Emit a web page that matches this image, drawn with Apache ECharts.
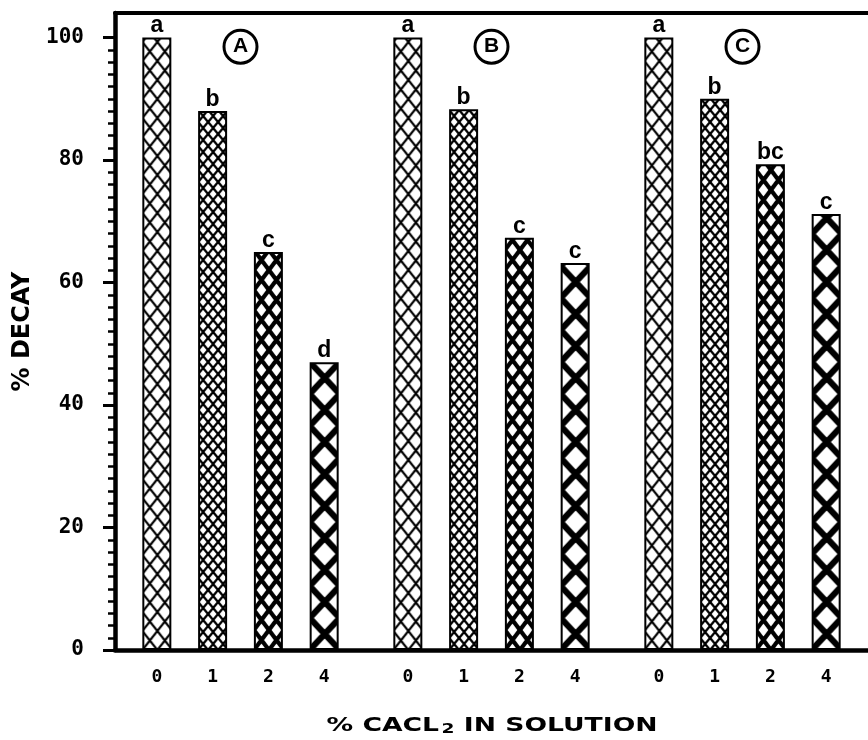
<!DOCTYPE html>
<html><head><meta charset="utf-8">
<script src="https://cdn.jsdelivr.net/npm/echarts@6/dist/echarts.min.js"></script>
<style>html,body{margin:0;padding:0;background:#fff}#c{width:868px;height:740px}</style>
</head><body><div id="c"></div>
<script>
// ---- data ----
const groups = ['A', 'B', 'C'];
const concentrations = ['0', '1', '2', '4'];
const decayA = [100, 88, 65, 47];
const decayB = [100, 88.3, 67.3, 63.2];
const decayC = [100, 90, 79.3, 71.2];
const lettersA = ['a', 'b', 'c', 'd'];
const lettersB = ['a', 'b', 'c', 'c'];
const lettersC = ['a', 'b', 'bc', 'c'];
const yTicks = [0, 20, 40, 60, 80, 100];

// ---- derived ----
const decay = [decayA, decayB, decayC];
const letters = [lettersA, lettersB, lettersC];
const yMinorTicks = [];
for (let v = 2; v < 100; v += 2) if (v % 20) yMinorTicks.push(v);
const SLOTS = 27;
function barSlot(g, i) { return 1 + g * 9 + i * 2; }
const categories = new Array(SLOTS).fill('');
const letterBySlot = new Array(SLOTS).fill('');
groups.forEach((g, gi) => concentrations.forEach((c, ci) => {
  categories[barSlot(gi, ci)] = c;
  letterBySlot[barSlot(gi, ci)] = letters[gi][ci];
}));

// ---- hatch patterns (style) ----
const tileSpec = [
  { w: 15, h: 19, lw: 2.2 },
  { w: 10, h: 12, lw: 2.4 },
  { w: 15, h: 20, lw: 4.2 },
  { w: 30, h: 32, lw: 6.2 }
];
function makeTile(s) {
  const c = document.createElement('canvas');
  c.width = s.w; c.height = s.h;
  const g = c.getContext('2d');
  g.fillStyle = '#fff'; g.fillRect(0, 0, s.w, s.h);
  g.strokeStyle = '#000'; g.lineWidth = s.lw;
  for (const dx of [-s.w, 0, s.w]) for (const dy of [-s.h, 0, s.h]) {
    g.beginPath();
    g.moveTo(dx, dy); g.lineTo(dx + s.w, dy + s.h);
    g.moveTo(dx + s.w, dy); g.lineTo(dx, dy + s.h);
    g.stroke();
  }
  return c;
}
const tiles = tileSpec.map(makeTile);
const BAR_W = 29;

function barData(offsetFn) {
  const d = new Array(SLOTS).fill('-');
  groups.forEach((g, gi) => concentrations.forEach((c, ci) => {
    const slot = barSlot(gi, ci);
    const off = offsetFn ? offsetFn(slot) : { x: 0, y: 0 };
    d[slot] = {
      value: decay[gi][ci],
      itemStyle: { color: { image: tiles[ci], repeat: 'repeat', x: off.x, y: off.y } }
    };
  }));
  return d;
}

const chart = echarts.init(document.getElementById('c'), null, { renderer: 'canvas' });
const option = {
  animation: false,
  backgroundColor: '#fff',
  grid: { left: 115, right: 0, top: 13, bottom: 90, containLabel: false },
  xAxis: [{
    type: 'category', data: categories, position: 'bottom',
    axisLine: { lineStyle: { color: '#000', width: 4.5 } },
    axisTick: { show: false },
    axisLabel: { interval: 0, color: '#000', fontFamily: 'DejaVu Sans Mono', fontWeight: 'bold', fontSize: 18, margin: 18 },
    splitLine: { show: false }
  }, {
    type: 'value', position: 'top', min: 0, max: 1,
    axisLine: { show: true, onZero: false, lineStyle: { color: '#000', width: 4 } },
    axisTick: { show: false }, axisLabel: { show: false }, splitLine: { show: false }
  }],
  yAxis: [{
    type: 'value', min: 0, max: 104, position: 'left',
    name: '% DECAY', nameLocation: 'middle', nameGap: 80, nameRotate: 90,
    nameTextStyle: { fontFamily: 'DejaVu Sans', fontWeight: 'bold', fontSize: 24, color: '#000' },
    axisLine: { show: true, onZero: false, lineStyle: { color: '#000', width: 4.5 } },
    axisTick: { show: true, customValues: yTicks, length: 12, lineStyle: { color: '#000', width: 3 } },
    axisLabel: { customValues: yTicks, color: '#000', fontFamily: 'DejaVu Sans Mono', fontWeight: 'bold', fontSize: 21, margin: 31 },
    splitLine: { show: false }
  }, {
    type: 'value', min: 0, max: 104, position: 'left',
    axisLine: { show: false },
    axisTick: { show: true, customValues: yMinorTicks, length: 7, lineStyle: { color: '#000', width: 2.5 } },
    axisLabel: { show: false }, splitLine: { show: false }
  }],
  series: [{
    type: 'bar', xAxisIndex: 0, yAxisIndex: 0, barWidth: BAR_W,
    data: barData(null),
    itemStyle: { borderColor: '#000', borderWidth: 2 },
    label: {
      show: true, position: 'top', distance: 0,
      formatter: p => letterBySlot[p.dataIndex],
      fontFamily: 'Liberation Sans', fontWeight: 'bold', fontSize: 23, color: '#000'
    }
  }, {
    type: 'scatter', xAxisIndex: 0, yAxisIndex: 0, z: 5,
    data: groups.map((g, gi) => [barSlot(gi, 1) + 1, 98.5]),
    symbol: 'circle', symbolSize: 33,
    itemStyle: { color: '#fff', borderColor: '#000', borderWidth: 3, opacity: 1 },
    label: {
      show: true, position: 'inside', formatter: p => groups[p.dataIndex],
      fontFamily: 'Liberation Sans', fontWeight: 'bold', fontSize: 21, color: '#000'
    },
    emphasis: { disabled: true }
  }],
  graphic: [{
    type: 'text', x: 492, y: 726, scaleX: 1.33,
    style: {
      text: '{t|% CACL}{s|2}{t| IN SOLUTION}',
      align: 'center', verticalAlign: 'middle',
      rich: {
        t: { fontFamily: 'DejaVu Sans', fontWeight: 'bold', fontSize: 20, lineHeight: 20, verticalAlign: 'top', fill: '#000', color: '#000' },
        s: { fontFamily: 'DejaVu Sans', fontWeight: 'bold', fontSize: 14, lineHeight: 14, verticalAlign: 'bottom', padding: [10, 0, 0, 2], fill: '#000', color: '#000' }
      }
    }
  }]
};
chart.setOption(option);
const zeroY = chart.convertToPixel({ yAxisIndex: 0 }, 0);
chart.setOption({
  series: [{
    data: barData(slot => ({ x: chart.convertToPixel({ xAxisIndex: 0 }, slot) - BAR_W / 2, y: zeroY }))
  }]
});
</script></body></html>
